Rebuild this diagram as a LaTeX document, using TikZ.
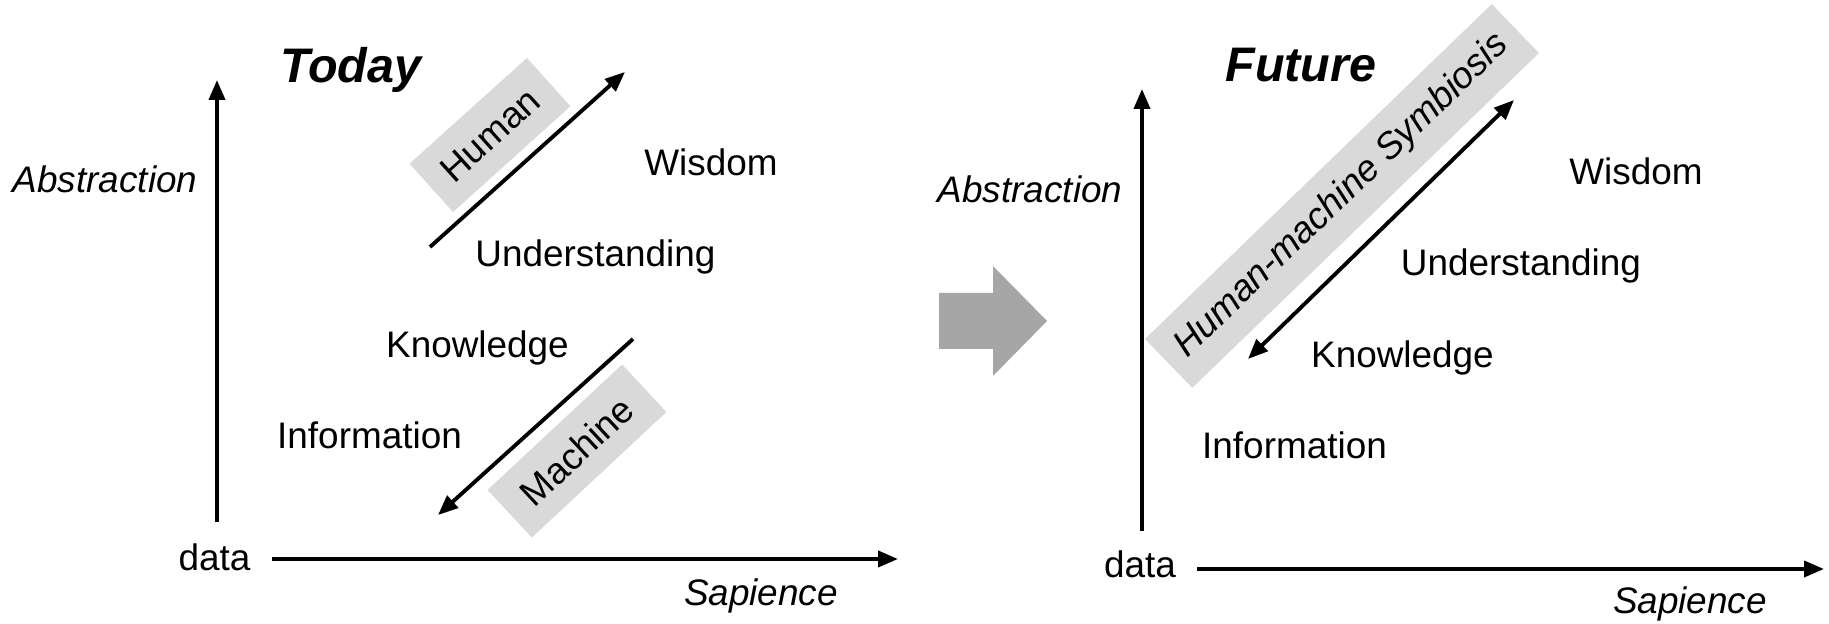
\documentclass[tikz,border=0pt]{standalone}
\usepackage{fontspec}
\setmainfont{Liberation Sans}
\usetikzlibrary{arrows.meta}
\definecolor{bandgray}{HTML}{D9D9D9}
\definecolor{shiftgray}{HTML}{A6A6A6}
\begin{document}
\begin{tikzpicture}[
	axis/.style={line width=1.1pt,-{Triangle[length=2mm,width=1.6mm]}},
	flow/.style={line width=1.1pt,-{Triangle[length=2mm,width=1.6mm]}},
	twoway/.style={line width=1.1pt,{Triangle[length=2mm,width=1.6mm]}-{Triangle[length=2mm,width=1.6mm]}},
	word/.style={anchor=base,inner sep=0pt,font=\fontsize{10.5}{12}\selectfont},
	axlabel/.style={anchor=base,inner sep=0pt,font=\fontsize{10.5}{12}\selectfont\itshape},
	heading/.style={anchor=base,inner sep=0pt,font=\fontsize{13.8}{16}\selectfont\bfseries\itshape},
	band/.style={fill=bandgray,inner sep=0pt,minimum height=0.65cm,font=\fontsize{10.5}{12}\selectfont}
	]
		\useasboundingbox (0,0) rectangle (18.29,-6.24);

		% today
		\node[heading] (today) at (3.51,-0.83) {Today};
		\node[axlabel] (labs) at (1.05,-1.93) {Abstraction};
		\node[axlabel] (lsap) at (7.61,-6.06) {Sapience};
		\node[word] (ldata) at (2.145,-5.71) {data};
		\coordinate (lybot) at (2.17,-5.22);
		\coordinate (lytop) at (2.17,-0.80);
		\coordinate (lxbeg) at (2.72,-5.59);
		\coordinate (lxend) at (8.98,-5.59);
		\draw[axis] (lybot) -- (lytop);
		\draw[axis] (lxbeg) -- (lxend);
		\node[word] (lwis) at (7.11,-1.76) {Wisdom};
		\node[word] (lund) at (5.955,-2.67) {Understanding};
		\node[word] (lkno) at (4.775,-3.58) {Knowledge};
		\node[word] (linf) at (3.695,-4.49) {Information};
		\node[band,minimum width=1.58cm,rotate=42] (human) at (4.90,-1.35) {Human};
		\node[band,minimum width=1.84cm,rotate=43] (machine) at (5.77,-4.51) {Machine};
		\coordinate (hbeg) at (4.30,-2.47);
		\coordinate (hend) at (6.25,-0.72);
		\coordinate (mbeg) at (6.33,-3.39);
		\coordinate (mend) at (4.38,-5.15);
		\draw[flow] (hbeg) -- (hend);
		\draw[flow] (mbeg) -- (mend);

		% shift
		\fill[shiftgray] (9.39,-2.93) -- (9.93,-2.93) -- (9.93,-2.66) -- (10.47,-3.21)
			-- (9.93,-3.76) -- (9.93,-3.49) -- (9.39,-3.49) -- cycle;

		% future
		\node[heading] (future) at (13.01,-0.82) {Future};
		\node[axlabel] (rabs) at (10.30,-2.03) {Abstraction};
		\node[axlabel] (rsap) at (16.90,-6.14) {Sapience};
		\node[word] (rdata) at (11.40,-5.78) {data};
		\coordinate (rybot) at (11.42,-5.31);
		\coordinate (rytop) at (11.42,-0.89);
		\coordinate (rxbeg) at (11.97,-5.69);
		\coordinate (rxend) at (18.24,-5.69);
		\draw[axis] (rybot) -- (rytop);
		\draw[axis] (rxbeg) -- (rxend);
		\node[word] (rwis) at (16.36,-1.85) {Wisdom};
		\node[word] (rund) at (15.21,-2.76) {Understanding};
		\node[word] (rkno) at (14.025,-3.68) {Knowledge};
		\node[word] (rinf) at (12.945,-4.59) {Information};
		\node[band,minimum width=4.82cm,minimum height=0.68cm,rotate=44,font=\fontsize{10.5}{12}\selectfont\itshape] (symb) at (13.42,-1.96) {Human-machine Symbiosis};
		\coordinate (sbeg) at (12.48,-3.59);
		\coordinate (send) at (15.14,-1.00);
		\draw[twoway] (sbeg) -- (send);
	\end{tikzpicture}
\end{document}
